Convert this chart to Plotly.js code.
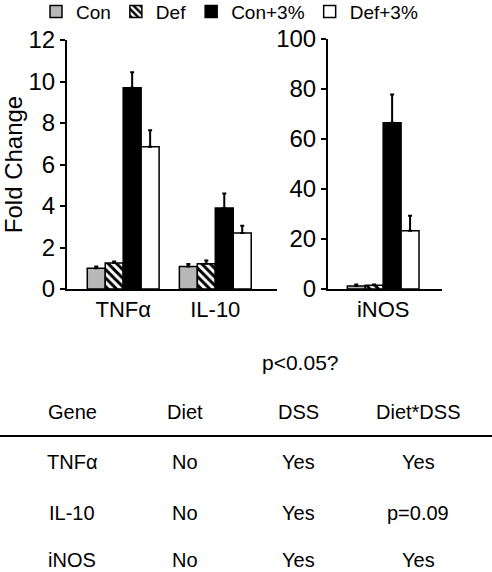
<!DOCTYPE html>
<html>
<head>
<meta charset="utf-8">
<script src="https://cdn.plot.ly/plotly-3.0.1.min.js"></script>
<style>html,body{margin:0;padding:0;background:#fff;}#chart{width:492px;height:572px;}</style>
</head>
<body>
<div id="chart"></div>
<script>
// ---- data ----
const seriesNames = ["Con", "Def", "Con+3%", "Def+3%"];
const leftGenes = ["TNFα", "IL-10"];
const rightGenes = ["iNOS"];
const conLeft = [1.0, 1.08];
const defLeft = [1.25, 1.22];
const con3Left = [9.7, 3.9];
const def3Left = [6.85, 2.7];
const conLeftErr = [0.08, 0.12];
const defLeftErr = [0.08, 0.15];
const con3LeftErr = [0.75, 0.7];
const def3LeftErr = [0.8, 0.35];
const conRight = [1.2];
const defRight = [1.5];
const con3Right = [66.5];
const def3Right = [23.3];
const conRightErr = [0.6];
const defRightErr = [0.3];
const con3RightErr = [11.3];
const def3RightErr = [6.0];
const leftTicks = [0, 2, 4, 6, 8, 10, 12];
const rightTicks = [0, 20, 40, 60, 80, 100];
const tableTitle = "p<0.05?";
const tableHeader = ["Gene", "Diet", "DSS", "Diet*DSS"];
const tableGenes = ["TNFα", "IL-10", "iNOS"];
const tableDiet = ["No", "No", "No"];
const tableDSS = ["Yes", "Yes", "Yes"];
const tableInteraction = ["Yes", "p=0.09", "Yes"];

// ---- styles ----
const W = 492, H = 572;
const FONT = "Liberation Sans, Arial, sans-serif";
const styles = [
  {color: "#b8b8b8"},
  {color: "#000000", pattern: {shape: "\\", bgcolor: "#000000", fgcolor: "#ffffff", size: 6, solidity: 0.5}},
  {color: "#000000"},
  {color: "#ffffff"}
];
const leftVals = [conLeft, defLeft, con3Left, def3Left];
const leftErrs = [conLeftErr, defLeftErr, con3LeftErr, def3LeftErr];
const rightVals = [conRight, defRight, con3Right, def3Right];
const rightErrs = [conRightErr, defRightErr, con3RightErr, def3RightErr];

function bar(i, x, y, err, xa, ya, show) {
  const m = Object.assign({line: {color: "#000", width: 1.5}}, styles[i]);
  return {
    type: "bar", name: seriesNames[i], x: x, y: y,
    xaxis: xa, yaxis: ya, marker: m, showlegend: show,
    error_y: {type: "data", symmetric: false, array: err, arrayminus: err.map(() => 0),
              color: "#000", thickness: 2, width: 2}
  };
}
const traces = [];
for (let i = 0; i < 4; i++) traces.push(bar(i, leftGenes, leftVals[i], leftErrs[i], "x", "y", true));
for (let i = 0; i < 4; i++) traces.push(bar(i, rightGenes, rightVals[i], rightErrs[i], "x2", "y2", false));

const px = v => v / W;
const py = v => 1 - v / H;
const yDom = [py(289), py(40)];
const yDom2 = [py(289), py(39)];

const annotations = [];
function txt(t, x, y, size) {
  annotations.push({text: t, x: px(x), y: py(y), xref: "paper", yref: "paper",
    showarrow: false, xanchor: "center", yanchor: "middle",
    font: {family: FONT, size: size || 20, color: "#000"}});
}
txt(tableTitle, 300, 362, 21);
const colX = [72, 185, 298, 418];
tableHeader.forEach((h, j) => txt(h, colX[j], 412));
const rowY = [462, 513, 560];
tableGenes.forEach((g, r) => {
  txt(g, colX[0], rowY[r]);
  txt(tableDiet[r], colX[1], rowY[r]);
  txt(tableDSS[r], colX[2], rowY[r]);
  txt(tableInteraction[r], colX[3], rowY[r]);
});

const axisCommon = {
  showline: true, linecolor: "#000", linewidth: 2, showgrid: false, zeroline: false,
  tickfont: {family: FONT, size: 24, color: "#000"}, fixedrange: true, automargin: false
};
const layout = {
  width: W, height: H,
  margin: {l: 0, r: 0, t: 0, b: 0, autoexpand: false},
  paper_bgcolor: "#fff", plot_bgcolor: "#fff",
  font: {family: FONT, color: "#000"},
  barmode: "group", bargap: 0.22, bargroupgap: 0,
  showlegend: true,
  legend: {orientation: "h", x: px(36), y: 1.013, xanchor: "left", yanchor: "top",
           font: {family: FONT, size: 19, color: "#000"}, itemclick: false, tracegroupgap: 0,
           bgcolor: "rgba(0,0,0,0)"},
  xaxis: Object.assign({}, axisCommon, {domain: [px(67), px(277)], anchor: "y",
           range: [-0.61, 1.67], ticks: "", type: "category",
           tickfont: {family: FONT, size: 22, color: "#000"}}),
  yaxis: Object.assign({}, axisCommon, {domain: yDom, anchor: "x", range: [0, 12],
           tickvals: leftTicks, ticks: "outside", ticklen: 5, tickwidth: 2, tickcolor: "#000",
           title: {text: "Fold Change", font: {family: FONT, size: 24, color: "#000"}, standoff: 1}}),
  xaxis2: Object.assign({}, axisCommon, {domain: [px(328), px(442)], anchor: "y2",
           range: [-0.6, 0.64], ticks: "", type: "category",
           tickfont: {family: FONT, size: 22, color: "#000"}}),
  yaxis2: Object.assign({}, axisCommon, {domain: yDom2, anchor: "x2", range: [0, 100],
           tickvals: rightTicks, ticks: "outside", ticklen: 5, tickwidth: 2, tickcolor: "#000"}),
  shapes: [{type: "line", xref: "paper", yref: "paper", x0: 0, x1: 1, y0: py(436), y1: py(436),
            line: {color: "#000", width: 2}}],
  annotations: annotations
};
Plotly.newPlot("chart", traces, layout, {displayModeBar: false, staticPlot: true});
</script>
</body>
</html>
